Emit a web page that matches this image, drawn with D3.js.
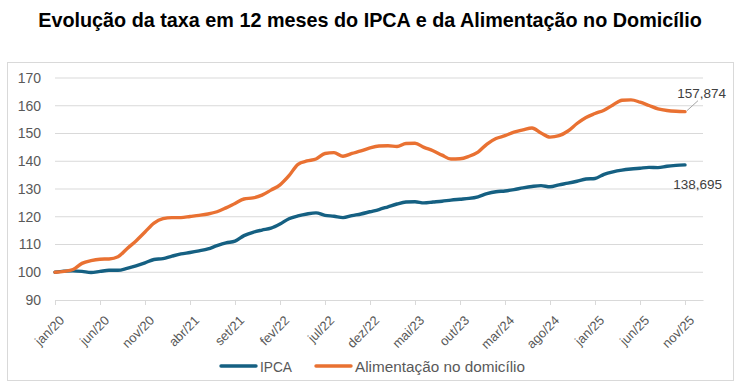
<!DOCTYPE html>
<html>
<head>
<meta charset="utf-8">
<script src="https://cdn.jsdelivr.net/npm/d3@7"></script>
<style>
  body { margin: 0; background: #fff; }
  svg { display: block; }
</style>
</head>
<body>
<svg id="chart" width="741" height="388"></svg>
<script>
// meses de jan/20 a nov/25
var meses = ['jan', 'fev', 'mar', 'abr', 'mai', 'jun', 'jul', 'ago', 'set', 'out', 'nov', 'dez']
var ipca = [
    100.0, 100.4, 100.5, 100.3, 99.9, 100.3, 100.7, 100.7, 101.4, 102.3, 103.4, 104.6,
    104.9, 105.8, 106.6, 107.1, 107.7, 108.4, 109.6, 110.6, 111.2, 113.2, 114.4, 115.2,
    115.9, 117.4, 119.3, 120.3, 121.0, 121.4, 120.5, 120.2, 119.7, 120.4, 121.0, 121.8,
    122.6, 123.6, 124.6, 125.3, 125.4, 125.0, 125.3, 125.6, 126.0, 126.3, 126.6, 127.2,
    128.3, 129.0, 129.3, 129.8, 130.4, 130.9, 131.2, 130.8, 131.5, 132.1, 132.8, 133.6,
    133.8, 135.3, 136.2, 136.8, 137.2, 137.5, 137.8, 137.7, 138.2, 138.5, 138.695
]
var alimentacao = [
    100.0, 100.3, 101.0, 103.2, 104.2, 104.7, 104.8, 105.6, 108.5, 111.3, 114.5, 117.7,
    119.3, 119.7, 119.7, 120.1, 120.5, 121.0, 121.8, 123.2, 124.8, 126.4, 126.8, 127.8,
    129.6, 131.5, 134.8, 138.9, 140.1, 140.8, 142.8, 143.1, 141.8, 142.8, 143.7, 144.8,
    145.5, 145.6, 145.3, 146.4, 146.5, 145.0, 143.8, 142.2, 140.8, 140.9, 141.8, 143.3,
    146.2, 148.2, 149.2, 150.5, 151.3, 152.0, 150.2, 148.7, 149.2, 150.9, 153.6, 155.8,
    157.2, 158.4, 160.3, 162.0, 162.1, 161.3, 160.1, 158.9, 158.3, 158.0, 157.874
]
var yTicks = [90, 100, 110, 120, 130, 140, 150, 160, 170]
var series = [
    { name: 'IPCA', values: ipca, color: '#156082' },
    { name: 'Alimentação no domicílio', values: alimentacao, color: '#E97132' }
]

function rotulo(i) {
    var ano = 20 + Math.floor(i / 12)
    return meses[i % 12] + '/' + ano
}
function fmt(v) {
    return v.toFixed(3).replace('.', ',')
}

var svg = d3.select('#chart')
var font = 'Liberation Sans, Arial, sans-serif'

// moldura do gráfico
svg.append('rect')
    .attr('x', 7.5).attr('y', 62.5)
    .attr('width', 726).attr('height', 318)
    .attr('fill', 'none').attr('stroke', '#D9D9D9')

svg.append('text')
    .attr('x', 370).attr('y', 27)
    .attr('text-anchor', 'middle')
    .style('font-family', font)
    .style('font-weight', 'bold')
    .style('font-size', '19.8px')
    .attr('fill', '#000')
    .text('Evolução da taxa em 12 meses do IPCA e da Alimentação no Domicílio')

var x = d3.scaleLinear().domain([0, 72]).range([55, 703])
var y = d3.scaleLinear().domain([90, 170]).range([300, 78])

// grade
svg.append('g')
    .selectAll('line')
    .data(yTicks.slice(1))
    .enter()
    .append('line')
    .attr('x1', x(0)).attr('x2', x(72))
    .attr('y1', d => y(d)).attr('y2', d => y(d))
    .attr('stroke', '#D9D9D9').attr('stroke-width', 1)

var yAxis = svg.append('g')
    .attr('transform', 'translate(52,0)')
    .call(d3.axisLeft(y).tickValues(yTicks).tickSize(0).tickPadding(11))
yAxis.select('.domain').remove()
yAxis.selectAll('text')
    .style('font-family', font)
    .style('font-size', '14px')
    .attr('fill', '#595959')

var xAxis = svg.append('g')
    .attr('transform', 'translate(0,' + y(90) + ')')
    .call(d3.axisBottom(x).tickValues(d3.range(0, 71, 5)).tickSize(5).tickSizeOuter(0).tickFormat(rotulo))
xAxis.select('.domain').attr('stroke', '#D9D9D9')
xAxis.selectAll('.tick line').attr('stroke', '#D9D9D9')
xAxis.selectAll('text')
    .style('font-family', font)
    .style('font-size', '13px')
    .attr('fill', '#595959')
    .attr('text-anchor', 'end')
    .attr('x', 0).attr('y', 0)
    .attr('dy', '0.35em')
    .attr('transform', 'translate(6.5,18) rotate(-45)')

var line = d3.line()
    .x((d, i) => x(i))
    .y(d => y(d))
    .curve(d3.curveMonotoneX)

svg.append('g')
    .selectAll('path')
    .data(series)
    .enter()
    .append('path')
    .attr('d', d => line(d.values))
    .attr('fill', 'none')
    .attr('stroke', d => d.color)
    .attr('stroke-width', 3.4)
    .attr('stroke-linejoin', 'round')
    .attr('stroke-linecap', 'round')

// rótulos dos últimos valores
var ult = alimentacao.length - 1
svg.append('line')
    .attr('x1', x(ult) + 2).attr('y1', y(alimentacao[ult]) - 1)
    .attr('x2', x(ult) + 13).attr('y2', y(alimentacao[ult]) - 11)
    .attr('stroke', '#A6A6A6').attr('stroke-width', 1)
svg.append('text')
    .attr('x', 726).attr('y', y(alimentacao[ult]) - 14)
    .attr('text-anchor', 'end')
    .style('font-family', font)
    .style('font-size', '13.5px')
    .attr('fill', '#404040')
    .text(fmt(alimentacao[ult]))
svg.append('text')
    .attr('x', 722).attr('y', y(ipca[ult]) + 24)
    .attr('text-anchor', 'end')
    .style('font-family', font)
    .style('font-size', '13.5px')
    .attr('fill', '#404040')
    .text(fmt(ipca[ult]))

// legenda
var legX = [221, 316]
var legLen = [32, 170]
var leg = svg.append('g')
    .selectAll('g')
    .data(series)
    .enter()
    .append('g')
    .attr('transform', (d, i) => 'translate(' + legX[i] + ',366)')
leg.append('line')
    .attr('x1', 0).attr('x2', 35)
    .attr('stroke', d => d.color)
    .attr('stroke-width', 3.4)
    .attr('stroke-linecap', 'round')
leg.append('text')
    .attr('x', 39).attr('y', 5.5)
    .attr('textLength', (d, i) => legLen[i])
    .attr('lengthAdjust', 'spacingAndGlyphs')
    .style('font-family', font)
    .style('font-size', '15.5px')
    .attr('fill', '#595959')
    .text(d => d.name)
</script>
</body>
</html>
